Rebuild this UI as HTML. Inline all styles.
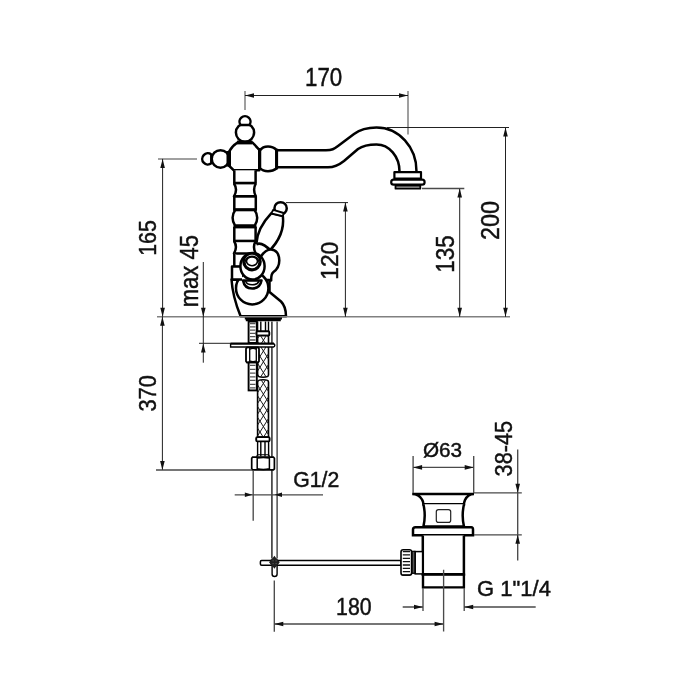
<!DOCTYPE html>
<html><head><meta charset="utf-8"><style>
html,body{margin:0;padding:0;background:#fff;}
svg{display:block;will-change:transform;}
text{font-family:"Liberation Sans",sans-serif;fill:#111;stroke:#111;stroke-width:0.45px;}
</style></head><body>
<svg width="700" height="700" viewBox="0 0 700 700">
<rect width="700" height="700" fill="#fff"/>
<defs>
</defs>
<!-- ===== DRAWING ===== -->
<g id="faucet" fill="#fff" stroke="#000" stroke-width="2.5" stroke-linejoin="round">
<!-- spout pipe -->
<path fill="none" d="M277,150.2 L326,150.2 C332,150.2 334,149 338,146 L354,134 C360,129.5 366,127.5 376.5,127.5 A40,43.5 0 0 1 416.5,171.5"/>
<path fill="none" d="M277,167.3 L328,167.3 C335,167.3 339,165 344,161 L358,149 C363,145.5 368,144.5 376.5,144.5 A23,27 0 0 1 399.5,171.5"/>
<!-- nozzle -->
<rect x="394.4" y="172.2" width="26.6" height="6.3" stroke-width="2.2"/>
<rect x="391.2" y="179.7" width="33.4" height="5" rx="2.5" stroke-width="2.2"/>
<rect x="395.5" y="185.7" width="24.8" height="3" fill="#aaa" stroke-width="1.8"/>
<!-- top knob -->
<circle cx="245" cy="132.6" r="9.1"/>
<path d="M240.6,125 A5.5,5.5 0 1 1 249.4,125 Z"/>
<!-- left knob -->
<circle cx="220.5" cy="158.9" r="8.75"/>
<path d="M211.3,154.5 A5.6,5.6 0 1 0 211.3,163.3 Z"/>
<!-- right knob -->
<path d="M260,150.5 C262,147.5 265,146.6 268,146.6 C271.5,146.6 274,147.5 276.5,150 V168.5 C274,170.5 271.5,171.2 268,171.2 C265,171.2 262,170.5 260,168 Z"/>
<rect x="275.1" y="148.7" width="3" height="20.6" fill="#000" stroke="none"/>
<!-- body -->
<path d="M237.5,142.5 H252.5 L259.3,149.8 V170.3 H233.8 L228.8,165.5 V152 Q232,146 237.5,142.5 Z"/>
<rect x="237" y="140.6" width="15.4" height="3.8" fill="#000" stroke="none"/>
<rect x="226.5" y="151" width="4.5" height="15.5" fill="#000" stroke="none"/>
<rect x="258" y="148" width="2.6" height="22" fill="#000" stroke="none"/>
<!-- column -->
<path d="M234.3,170.3 V183 H255.6 V170.3"/>
<path d="M234,183.5 C236.6,187.5 236.6,192 234,196.3 H255.8 C253.6,192 253.6,187.5 255.8,183.5"/>
<path d="M234.3,196.5 V209.8 H255.8 V196.5"/>
<rect x="233.4" y="195.3" width="23" height="2.4" fill="#000" stroke="none"/>
<path d="M235,210.5 C231.8,214.5 231.8,221 235,225.5 H254.8 C258,221 258,214.5 254.8,210.5"/>
<path d="M234.3,226.8 V241 H255.6 V226.8"/>
<path d="M234,241 C236.6,245 236.6,249 234,253.4 H255.6 C253.4,249 253.4,245 255.6,241"/>
<path d="M234.3,253.4 V267 H255"/>
<g fill="#000" stroke="none">
<rect x="233.3" y="182" width="22.8" height="2.4"/>
<rect x="233.5" y="208.3" width="23" height="3"/>
<rect x="233.5" y="225.4" width="23" height="3"/>
<rect x="233.5" y="239.9" width="22.8" height="2.3"/>
</g>
<!-- lever handle -->
<path d="M256.3,244 C257,232 263,222 271.2,213.4 L282.8,216 C284.5,229 280,243 262,257.5"/>
<circle cx="280.6" cy="208.3" r="6.15"/>
<path d="M273.3,209.8 L283.7,213 L282.8,216.2 L271.3,213.4 Z" stroke-width="1.9"/>
<!-- lever base arc -->
<path fill="none" stroke-width="2.8" d="M256.3,244.2 C259.5,242.6 265,244.5 271,251"/>
<!-- bean -->
<path d="M258,262 C262,253 267,249.5 271,249.5 C276,249.5 279.3,254 279.3,260.5 C279.3,266 277,269.5 273.5,272 C271.5,273.5 271,276 271.2,280.5 H258 Z"/>
<!-- dome -->
<path d="M231.5,279.5 C232.5,295 236,305 240.6,316.3 H286 C286,310 284.5,305 281,301.5 L269.5,292 V280 Z"/>
<circle cx="252.2" cy="288.2" r="16.2"/>
<!-- left block -->
<path d="M242,266.5 H232 V279.4 H242"/>
<!-- neck crescent -->
<path d="M243,280.5 C244,286 248,288.5 252.2,288.5 C256.5,288.5 260.5,286 261.5,280.5 Z"/>
<path fill="none" stroke-width="1.6" d="M245.5,281 C246.5,283.8 249,284.8 252.2,284.8 C255.5,284.8 258,283.8 259,281"/>
<!-- ball -->
<ellipse cx="252.5" cy="266.3" rx="12.1" ry="13.3"/>
<ellipse cx="252" cy="261.8" rx="8.5" ry="8.3" stroke-width="2.6"/>
<ellipse cx="252" cy="262.6" rx="7" ry="6.3" stroke-width="1.4"/>
<ellipse cx="252" cy="261.3" rx="5.5" ry="4.4" stroke-width="1.6"/>
<!-- deck washer -->
<path d="M244.8,316 H282 V319.4 H280.8 V321.2 H245.8 V319.4 H244.8 Z" fill="#000" stroke="none"/>
</g>
<!-- below deck -->
<g id="under" fill="#fff" stroke="#000" stroke-width="1.9">
<!-- drain rod -->
<path fill="none" stroke="#444" stroke-width="1.7" d="M271.9,321.5 V558.5"/>
<path fill="none" stroke="#333" stroke-width="1.3" d="M277.1,321.5 V558.5"/>
<!-- threaded stud upper -->
<rect x="248.6" y="321.5" width="8.2" height="21.5"/>
<path stroke="#555" stroke-width="1.3" d="M250,323.5H255.5M250,326.8H255.5M250,330.1H255.5M250,333.4H255.5M250,336.7H255.5M250,340H255.5"/>
<!-- hose upper ferrule -->
<path fill="none" stroke-width="1.4" d="M257.6,321.5V331M260.8,321.5V331M265.5,321.5V331M268.5,321.5V331"/>
<rect x="256.5" y="331.2" width="12.8" height="4.4" rx="1.2"/>
<!-- braided hose -->
<path fill="#fff" stroke-width="1.6" d="M257.6,335.6 V375 C257.6,378 268.5,378 268.5,375 V335.6 Z"/>
<path fill="#fff" stroke-width="1.6" d="M257.6,437.1 V382 C257.6,379 268.5,379 268.5,382 V437.1 Z"/>
<path fill="none" stroke="#1a1a1a" stroke-width="1" d="M267.30,335.60L268.50,337.50M257.60,338.61L259.50,335.60M260.50,335.60L268.50,348.30M257.60,349.41L266.30,335.60M257.60,341.79L268.50,359.10M257.60,360.21L268.50,342.90M257.60,352.59L268.50,369.90M257.60,371.01L268.50,353.70M257.60,363.39L265.92,376.60M260.88,376.60L268.50,364.50M257.60,374.19L259.12,376.60M267.68,376.60L268.50,375.30M268.19,380.20L268.50,380.70M257.60,381.81L258.61,380.20M261.39,380.20L268.50,391.50M257.60,392.61L265.41,380.20M257.60,384.99L268.50,402.30M257.60,403.41L268.50,386.10M257.60,395.79L268.50,413.10M257.60,414.21L268.50,396.90M257.60,406.59L268.50,423.90M257.60,425.01L268.50,407.70M257.60,417.39L268.50,434.70M257.60,435.81L268.50,418.50M257.60,428.19L263.21,437.10M263.59,437.10L268.50,429.30"/>
<rect x="256.2" y="437.1" width="13.4" height="4.3" rx="1.2"/>
<path fill="none" stroke-width="1.4" d="M257.6,441.4V456.5M260.8,441.4V456.5M265,441.4V456.5M268.6,441.4V456.5"/>
<!-- hex nut -->
<path d="M252.6,457.2 H273.4 L274.4,458.3 V468.8 L273.4,469.9 H252.6 L251.7,468.8 V458.3 Z" stroke-width="1.7"/>
<path fill="none" stroke-width="1.5" d="M257.2,457.4V469.7M269.4,457.4V469.7M257.2,458 Q263.3,457 269.4,458M257.2,468.8 Q263.3,470.4 269.4,468.8"/>
<path fill="none" stroke-width="1.1" d="M256.5,456.8 L257.6,454.8 H268.6 L269.8,456.8"/>
<!-- plate -->
<path d="M230.6,343.7 H273.5 A1.7,1.7 0 0 1 273.5,347 H230.6 Z" stroke-width="1.4"/>
<path d="M230.6,343.5H274" stroke-width="2" fill="none"/>
<!-- nut under plate -->
<path d="M247,347.4 H258 L259,348.8 V361.2 L258,362.5 H247 L246,361.2 V348.8 Z" stroke-width="1.8"/>
<path fill="none" stroke-width="1.3" d="M249.7,347.8V362.2M256.3,347.8V362.2M249.7,349.3 Q253,347.6 256.3,349.3M249.7,360.8 Q253,362.6 256.3,360.8"/>
<!-- threaded stud lower -->
<rect x="248.6" y="362.5" width="8.2" height="27.9"/>
<path stroke="#555" stroke-width="1.3" d="M250,365.4H255.5M250,369.3H255.5M250,373.2H255.5M250,376.8H255.5M250,380.4H255.5M250,384.3H255.5M250,387.9H255.5"/>
<!-- horizontal rod -->
<path d="M261.6,560.5 H401 V565.2 H261.6 Q260.4,565.2 260.4,564 V561.7 Q260.4,560.5 261.6,560.5 Z" stroke-width="1.5"/>
<path d="M272.1,565 V574 A2.5,2.5 0 0 0 277.1,574 V565" stroke-width="1.4"/>
<path d="M274.4,555.8 L276.4,558.4 L279.8,562.2 L276.4,566 L274.4,568.8 L272.4,566 L269,562.2 L272.4,558.4 Z" fill="#1a1a1a" stroke="none"/><circle cx="274.4" cy="562.2" r="4.3" fill="#222" stroke="none"/><path d="M272.6,560.8h1M275.6,560.8h1M272.6,563.6h1M275.6,563.6h1" stroke="#777" stroke-width="0.8"/>
</g>
<!-- pop-up waste -->
<g id="waste" fill="#fff" stroke="#000" stroke-width="2.5">
<path d="M412.2,494 H474 C470,494 466.5,497 465,500 C464.2,502 464,504 464,504.3 H423.4 C423.4,504 423,501 422,499.5 C420,496 417,494 412.2,494 Z"/>
<path d="M423.4,504.3 C425.2,512 425.2,519 423.4,526.6 H464 C462.2,519 462.2,512 464,504.3"/>
<rect x="436.3" y="509.6" width="14.4" height="12.8" rx="2.2" stroke-width="1.2" stroke="#222"/>
<path d="M415.5,527.2 H471.3 Q473,527.2 473,529.5 V535.2 H413 V529.5 Q413,527.2 415.5,527.2 Z"/>
<path d="M422.8,535.5 V574.3 H463.9 V535.5"/>
<path d="M423,574.3 V587.4 H463.9 V574.3" stroke-width="2.4"/>
<rect x="421.8" y="573.2" width="43.3" height="2.6" fill="#000" stroke="none"/>
<!-- knurled nut -->
<rect x="415.2" y="551.6" width="7.4" height="22.3" stroke-width="1.5"/>
<rect x="411.9" y="551.3" width="3" height="22" fill="#555" stroke-width="1.2"/>
<rect x="401" y="549.8" width="10.6" height="25.5" rx="2.2" stroke-width="1.6"/>
<path stroke="#111" stroke-width="1.3" d="M402.8,551.6H410M402.8,554.9H410M402.8,558.3H410M402.8,561.6H410M402.8,565.0H410M402.8,568.3H410M402.8,571.6H410M402.8,575.0H410"/>
</g>
<!-- ===== DIMENSIONS ===== -->
<g id="dims" stroke-linecap="butt">
<!-- grey extension lines -->
<g stroke="#808080" stroke-width="1.5" fill="none">
<path d="M245,91V110M408,91V134.5"/>
<path d="M157,316.8H510"/>
<path d="M158,158.9H197"/>
</g>
<g stroke="#222" stroke-width="1" fill="none">
<!-- 170 -->
<path d="M245,95.5H408"/>
<!-- 200 -->
<path d="M387,127.5H509M505.5,127.5V316.8"/>
<!-- 135 -->
<path d="M459.7,188.5V316.8"/>
<!-- 120 -->
<path d="M286,202.6H348M345.4,202.6V316.8"/>
<!-- 165 -->
<path d="M162.6,158.9V316.8"/>
<!-- 370 -->
<path d="M162.4,316.8V470"/>
<!-- max45 -->
<path d="M203.3,262V362.7M199,343.3H231"/>
</g>
<g stroke="#4a4a4a" stroke-width="1.35" fill="none">
<path d="M156,470H252M422,188.5H464.3"/>
<path d="M253.2,471V520.7M234.7,494.8H323"/>
<path d="M413.1,456V493M473.7,456V493M413.1,467.4H473.7"/>
<path d="M474,492.8H521.8M474,534.8H521.8M517.7,449.6V560.6"/>
<path d="M423,588V611M464.2,588V611M402.7,607H423M464.2,607H535.7"/>
<path d="M274.3,580.5V631.7M443.6,569.7V631.4M274.3,624H443.6"/>
</g>
<!-- arrows -->
<path d="M274.6,494.8 L282,492.6 V497 Z" fill="#111"/>
<path fill="#111" d="M245.00,95.50 L254.00,93.20 L254.00,97.80 Z M408.00,95.50 L399.00,97.80 L399.00,93.20 Z M505.50,127.50 L507.80,136.50 L503.20,136.50 Z M505.50,316.80 L503.20,307.80 L507.80,307.80 Z M459.70,188.50 L462.00,197.50 L457.40,197.50 Z M459.70,316.80 L457.40,307.80 L462.00,307.80 Z M345.40,202.60 L347.70,211.60 L343.10,211.60 Z M345.40,316.80 L343.10,307.80 L347.70,307.80 Z M162.60,158.90 L164.90,167.90 L160.30,167.90 Z M162.60,316.80 L160.30,307.80 L164.90,307.80 Z M162.40,316.80 L164.70,325.80 L160.10,325.80 Z M162.40,470.00 L160.10,461.00 L164.70,461.00 Z M203.30,316.80 L201.00,307.80 L205.60,307.80 Z M203.30,343.50 L205.60,352.50 L201.00,352.50 Z M252.50,494.80 L244.85,497.10 L244.85,492.50 Z M413.10,467.40 L422.10,465.10 L422.10,469.70 Z M473.70,467.40 L464.70,469.70 L464.70,465.10 Z M517.70,492.80 L515.40,483.80 L520.00,483.80 Z M517.70,534.80 L520.00,543.80 L515.40,543.80 Z M423.00,607.00 L414.00,609.30 L414.00,604.70 Z M464.20,607.00 L473.20,604.70 L473.20,609.30 Z M274.30,624.00 L283.30,621.70 L283.30,626.30 Z M443.60,624.00 L434.60,626.30 L434.60,621.70 Z"/>
<!-- texts -->
<text transform="translate(323.60,85.60) scale(0.8930,1)" font-size="25.01" text-anchor="middle">170</text>
<text transform="translate(498.90,220.55) rotate(-90) scale(0.9119,1)" font-size="25.73" text-anchor="middle">200</text>
<text transform="translate(453.60,254.05) rotate(-90) scale(0.8962,1)" font-size="24.91" text-anchor="middle">135</text>
<text transform="translate(338.30,260.80) rotate(-90) scale(0.9317,1)" font-size="24.35" text-anchor="middle">120</text>
<text transform="translate(155.70,238.00) rotate(-90) scale(0.8702,1)" font-size="24.62" text-anchor="middle">165</text>
<text transform="translate(156.20,393.35) rotate(-90) scale(0.9184,1)" font-size="23.75" text-anchor="middle">370</text>
<text transform="translate(198.10,271.15) rotate(-90) scale(0.8857,1)" font-size="24.89" text-anchor="middle">max 45</text>
<text transform="translate(316.20,487.20) scale(0.9862,1)" font-size="21.51" text-anchor="middle">G1/2</text>
<text transform="translate(442.50,457.20) scale(1.0117,1)" font-size="20.48" text-anchor="middle">Ø63</text>
<text transform="translate(511.80,448.65) rotate(-90) scale(0.9130,1)" font-size="23.76" text-anchor="middle">38-45</text>
<text transform="translate(514.00,596.30) scale(1.0087,1)" font-size="21.80" text-anchor="middle">G 1"1/4</text>
<text transform="translate(353.85,614.50) scale(0.9060,1)" font-size="23.55" text-anchor="middle">180</text>
</g>
</svg>
</body></html>
